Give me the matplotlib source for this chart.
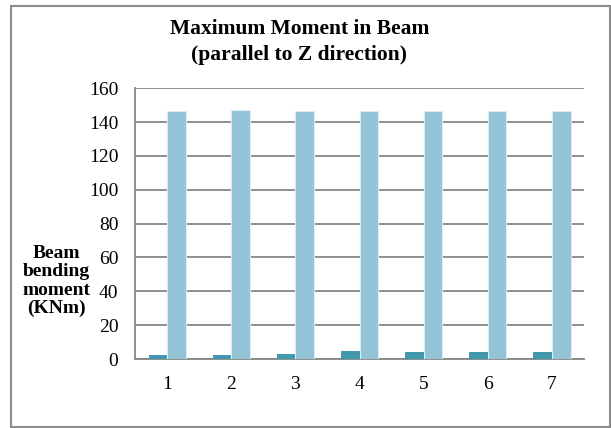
import numpy as np
import matplotlib
matplotlib.use("Agg")
import matplotlib.pyplot as plt
from matplotlib.patches import Rectangle

# bending moment per beam, two load cases
beams = ["1", "2", "3", "4", "5", "6", "7"]
moment_small = [2.2, 2.2, 3.1, 4.9, 4.2, 4.0, 4.0]
moment_large = [146.3, 146.9, 146.7, 146.7, 146.7, 146.7, 146.7]

plt.rcParams['font.family'] = ['Liberation Serif', 'DejaVu Serif']

fig = plt.figure(figsize=(6.11, 4.28), dpi=100)
ax = fig.add_axes([0.221, 0.161, 0.735, 0.633])

x = np.arange(len(beams))
w = 0.29
ax.bar(x - w / 2, moment_small, w, color="#4198af", zorder=3)
ax.bar(x + w / 2, moment_large, w, color="#93c3d6", edgecolor="#dcecf2",
       linewidth=0.8, zorder=3)

ax.set_xlim(-0.5, len(beams) - 0.5)
ax.set_ylim(0, 160)
ax.set_yticks(range(0, 161, 20))
ax.set_xticks(x)
ax.set_xticklabels(beams)
ax.tick_params(axis="both", length=0, labelsize=14)
ax.tick_params(axis="x", pad=12)
ax.tick_params(axis="y", pad=12)

ax.grid(axis="y", color="#868686", linewidth=1.3, zorder=0)
for s in ["top", "right"]:
    ax.spines[s].set_visible(False)
ax.spines["left"].set_color("#868686")
ax.spines["left"].set_linewidth(1.3)
ax.spines["bottom"].set_color("#868686")
ax.spines["bottom"].set_linewidth(1.3)

fig.text(0.49, 0.902, "Maximum Moment in Beam\n(parallel to Z direction)",
         ha="center", va="center", fontsize=15.5, fontweight="bold",
         linespacing=1.35)
fig.text(0.093, 0.343, "Beam\nbending\nmoment\n(KNm)", ha="center",
         va="center", fontsize=14, fontweight="bold", linespacing=1.1)

# chart frame
fig.patches.append(Rectangle((0.018, 0.003), 0.98, 0.984,
                             transform=fig.transFigure, fill=False,
                             edgecolor="#8c8c8c", linewidth=1.5))

fig.savefig("out.png", dpi=100)
